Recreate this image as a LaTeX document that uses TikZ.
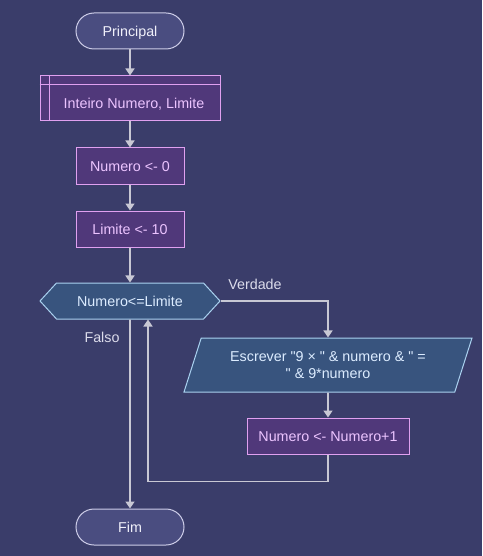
\documentclass[tikz,border=0pt]{standalone}
\usepackage{fontspec}
\setmainfont{Liberation Sans}[Ligatures=TeXOff]
\usetikzlibrary{shapes.geometric,shapes.symbols,arrows.meta}
\definecolor{bgcol}{RGB}{58,61,106}
\definecolor{termfill}{RGB}{74,77,128}
\definecolor{termline}{RGB}{205,205,232}
\definecolor{termtext}{RGB}{240,240,250}
\definecolor{procfill}{RGB}{80,56,122}
\definecolor{procline}{RGB}{224,160,240}
\definecolor{proctext}{RGB}{236,196,255}
\definecolor{condfill}{RGB}{56,84,126}
\definecolor{condline}{RGB}{170,210,240}
\definecolor{condtext}{RGB}{220,236,255}
\definecolor{flowline}{RGB}{200,200,212}
\definecolor{lbltext}{RGB}{220,220,235}
\begin{document}
\begin{tikzpicture}[x=1pt,y=-1pt,
    every node/.style={font=\fontsize{14.3}{17}\selectfont},
    onerow/.style={text height=10.3pt,text depth=0pt},
    terminal/.style={onerow,draw=termline,fill=termfill,text=termtext,line width=1pt,rounded corners=18pt,minimum width=108pt,minimum height=36pt},
    process/.style={onerow,draw=procline,fill=procfill,text=proctext,line width=1pt,minimum height=36pt},
    declare/.style={process,minimum width=180pt,minimum height=45pt},
    decision/.style={onerow,draw=condline,fill=condfill,text=condtext,line width=1pt,signal,signal to=west and east,signal pointer angle=95,minimum width=180pt,minimum height=36pt},
    inout/.style={draw=condline,fill=condfill,text=condtext,line width=1pt,trapezium,trapezium left angle=63,trapezium right angle=117,trapezium stretches body,minimum width=288pt,minimum height=54pt,align=center},
    lbl/.style={onerow,text=lbltext},
    flow/.style={draw=flowline,line width=1.6pt,-{Triangle[length=7pt,width=9pt]}}]
  \fill[bgcol] (0,0) rectangle (482,556);
  \node[terminal] (principal) at (130,31) {Principal};
  \node[declare] (decl) at (130,98.5) {};
  \draw[procline,line width=1pt] ([yshift=-9pt]decl.north west) -- ([yshift=-9pt]decl.north east);
  \draw[procline,line width=1pt] ([xshift=10pt]decl.north west) -- ([xshift=10pt]decl.south west);
  \node[onerow,text=proctext] (decltext) at (134,103) {Inteiro Numero, Limite};
  \node[process,minimum width=108pt] (init) at (130,166) {Numero <- 0};
  \node[process,minimum width=108pt] (limit) at (130,229) {Limite <- 10};
  \node[decision] (cond) at (130,301) {Numero<=Limite};
  \node[inout] (out) at (328,365) {Escrever "9 × " \& numero \& " =\\" \& 9*numero};
  \node[process,minimum width=162pt] (incr) at (328,436) {Numero <- Numero+1};
  \node[terminal] (fim) at (130,527) {Fim};
  \node[lbl] (verdade) at (255,284) {Verdade};
  \node[lbl] (falso) at (102,337) {Falso};
  \draw[flow] (principal) -- (decl);
  \draw[flow] (decl) -- (init);
  \draw[flow] (init) -- (limit);
  \draw[flow] (limit) -- (cond);
  \draw[flow] (cond.east) -| (out.north);
  \draw[flow] (out) -- (incr);
  \draw[flow] (incr.south) -- ++(0,27) -| ([xshift=18pt]cond.south);
  \draw[flow] (cond) -- (fim);
\end{tikzpicture}
\end{document}
